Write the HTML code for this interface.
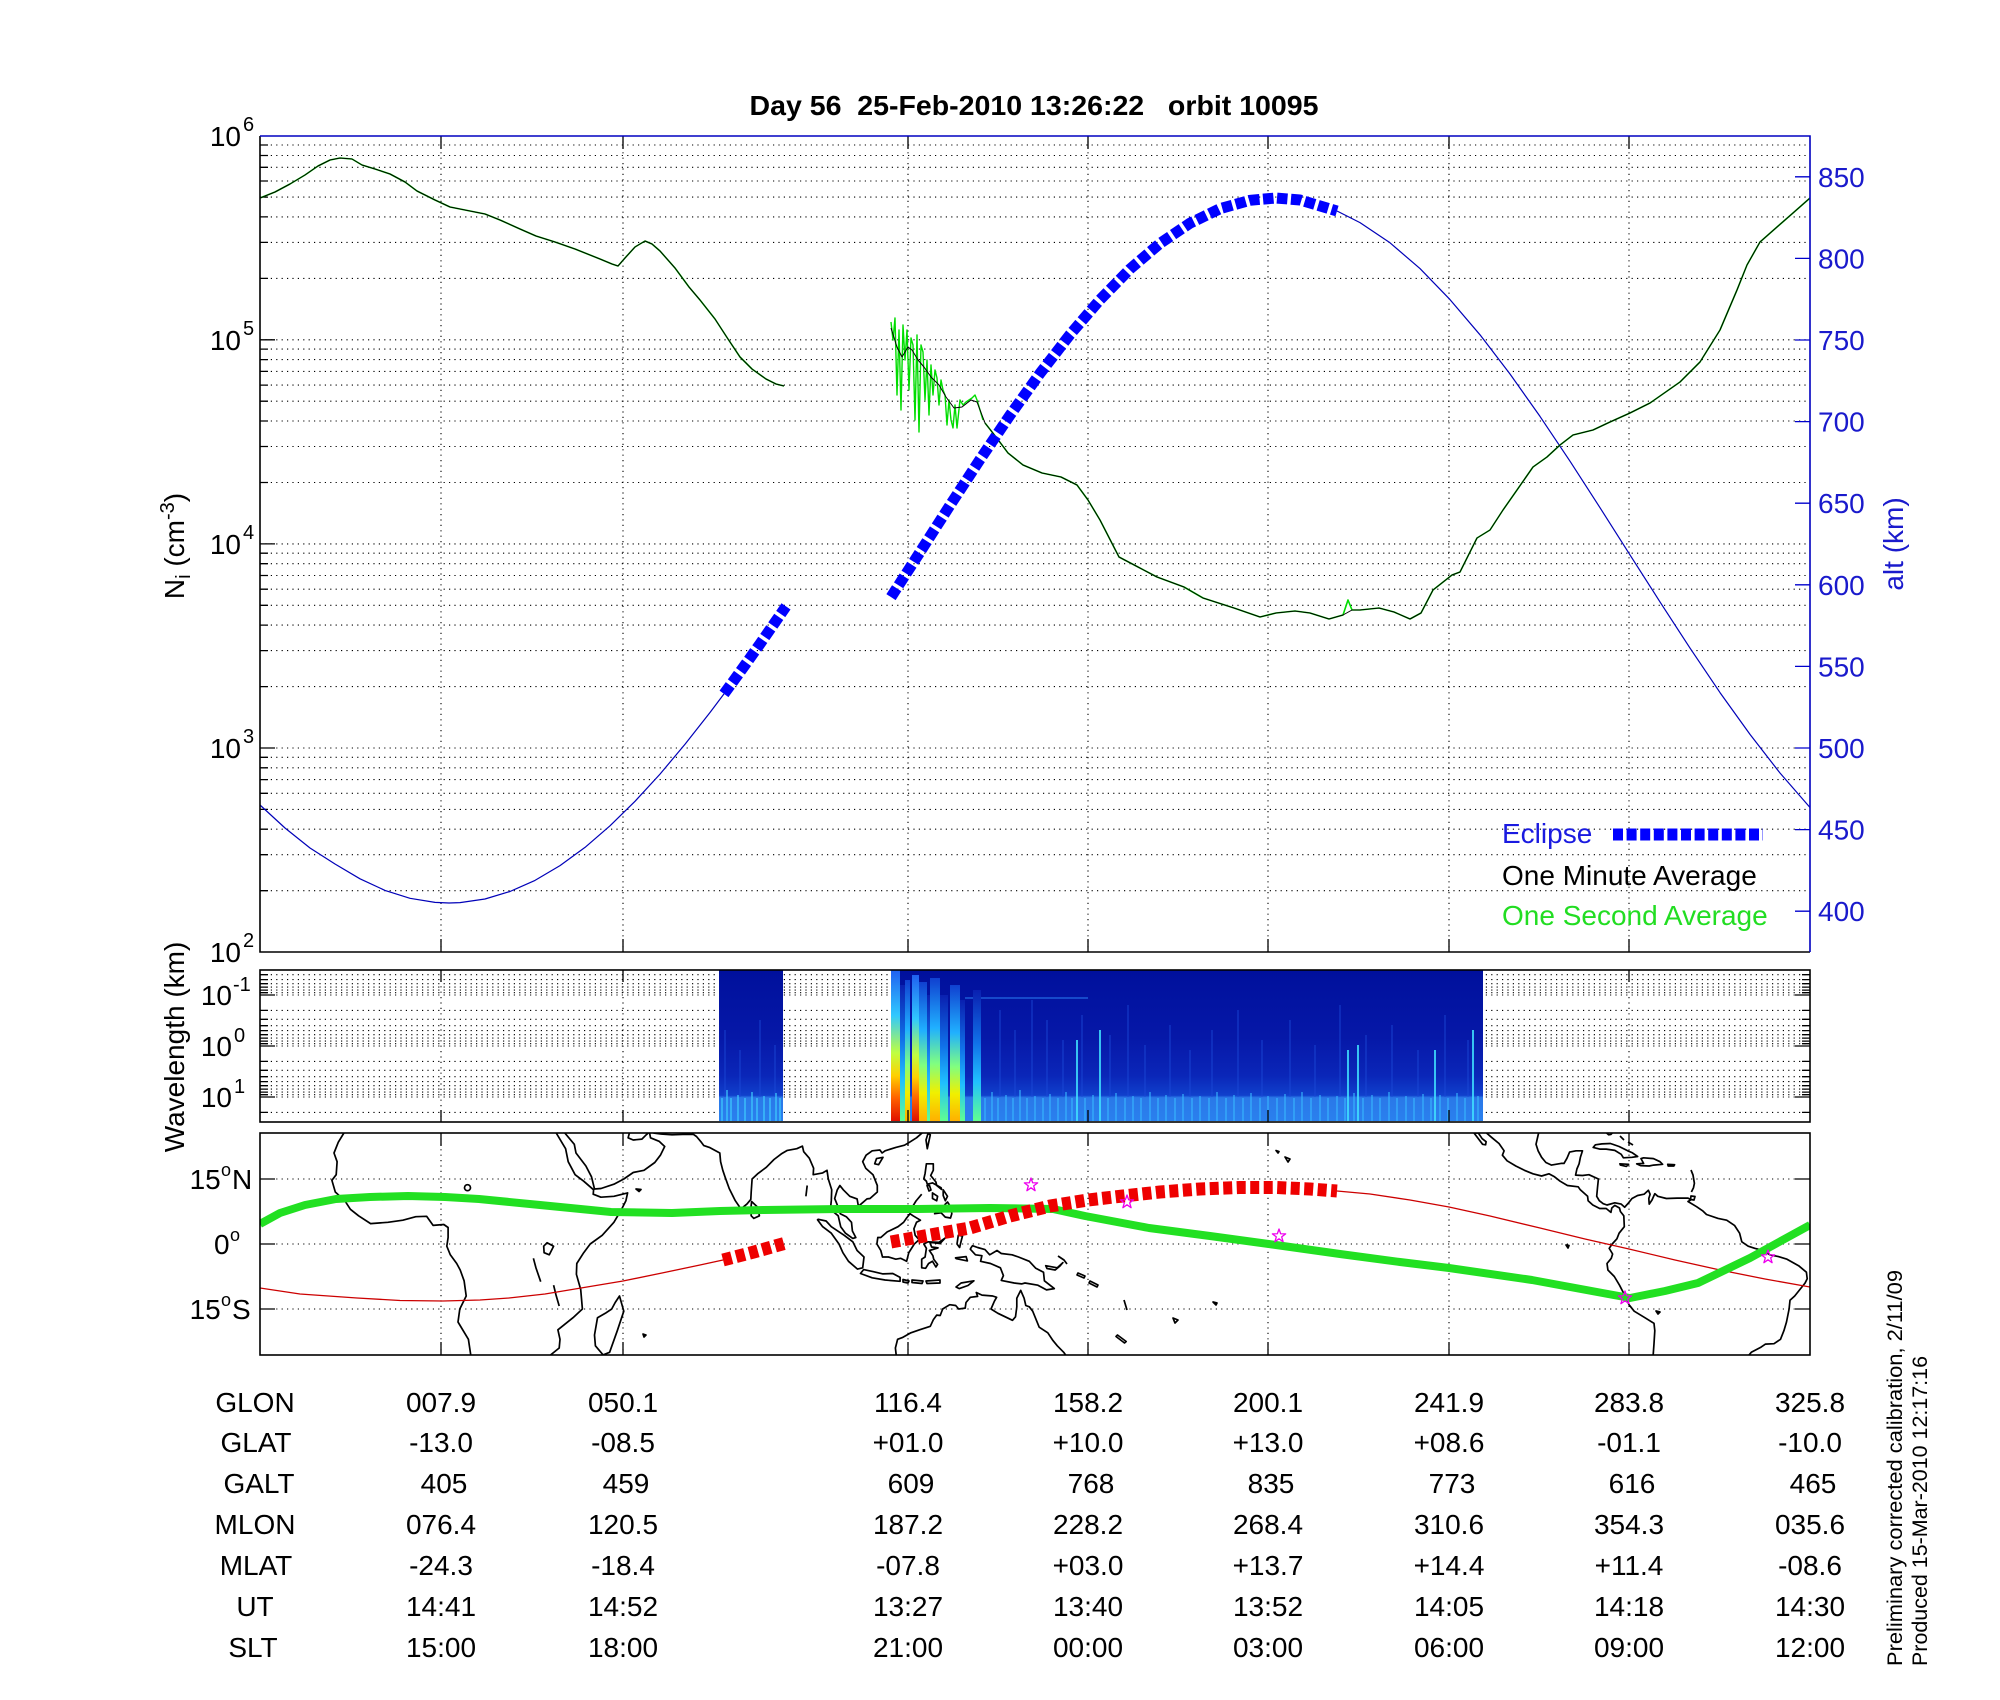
<!DOCTYPE html>
<html><head><meta charset="utf-8"><style>
html,body{margin:0;padding:0;background:#fff;}
svg{display:block;font-family:"Liberation Sans",Arial,sans-serif;}
</style></head><body>
<svg width="2000" height="1700" viewBox="0 0 2000 1700" xmlns="http://www.w3.org/2000/svg">
<defs>
<clipPath id="cTop"><rect x="260" y="136" width="1550" height="816"/></clipPath>
<clipPath id="cMap"><rect x="260" y="1133" width="1550" height="222"/></clipPath>
<linearGradient id="specG" x1="0" y1="0" x2="0" y2="1">
<stop offset="0" stop-color="#00109c"/><stop offset="0.45" stop-color="#0618a8"/><stop offset="0.7" stop-color="#0a26b8"/><stop offset="0.83" stop-color="#1040cc"/><stop offset="0.845" stop-color="#2a78e8"/><stop offset="1" stop-color="#2a80ee"/>
</linearGradient>
<linearGradient id="hotA" x1="0" y1="0" x2="0" y2="1">
<stop offset="0" stop-color="#2060f0"/><stop offset="0.3" stop-color="#30c8ff"/><stop offset="0.55" stop-color="#c0ff40"/><stop offset="0.7" stop-color="#ffd000"/><stop offset="0.85" stop-color="#ff6000"/><stop offset="1" stop-color="#e01000"/>
</linearGradient>
<linearGradient id="hotB" x1="0" y1="0" x2="0" y2="1">
<stop offset="0" stop-color="#1040d0"/><stop offset="0.35" stop-color="#20b0ff"/><stop offset="0.6" stop-color="#80ff80"/><stop offset="0.8" stop-color="#f0f000"/><stop offset="1" stop-color="#ffb000"/>
</linearGradient>
<linearGradient id="hotC" x1="0" y1="0" x2="0" y2="1">
<stop offset="0" stop-color="#0a20b0"/><stop offset="0.4" stop-color="#1070e8"/><stop offset="0.7" stop-color="#20c0ff"/><stop offset="1" stop-color="#60ff90"/>
</linearGradient>
</defs>
<rect x="0" y="0" width="2000" height="1700" fill="#fff"/>

<text x="1034" y="115" font-size="28" font-weight="bold" text-anchor="middle" textLength="569" lengthAdjust="spacingAndGlyphs" xml:space="preserve">Day 56  25-Feb-2010 13:26:22   orbit 10095</text>

<!-- ============ TOP PANEL ============ -->
<g stroke="#000" stroke-width="1.1" stroke-dasharray="1.2 4.2" fill="none">
<path d="M260 145H1810M260 155.5H1810M260 167.3H1810M260 181H1810M260 197.1H1810M260 216.9H1810M260 242.4H1810M260 278.4H1810M260 339.8H1810M260 349.1H1810M260 359.6H1810M260 371.4H1810M260 385.1H1810M260 401.2H1810M260 421H1810M260 446.5H1810M260 482.5H1810M260 543.9H1810M260 553.2H1810M260 563.7H1810M260 575.5H1810M260 589.2H1810M260 605.3H1810M260 625.1H1810M260 650.6H1810M260 686.6H1810M260 748H1810M260 757.3H1810M260 767.8H1810M260 779.6H1810M260 793.3H1810M260 809.4H1810M260 829.2H1810M260 854.7H1810M260 890.7H1810"/>
<path d="M441 136V952M623 136V952M908 136V952M1088 136V952M1268 136V952M1449 136V952M1629 136V952"/>
</g>
<g stroke="#000" stroke-width="1.3">
<path d="M260 339.8H275M260 543.9H275M260 748H275"/>
<path d="M260 145H268M260 155.5H268M260 167.3H268M260 181H268M260 197.1H268M260 216.9H268M260 242.4H268M260 278.4H268M260 349.1H268M260 359.6H268M260 371.4H268M260 385.1H268M260 401.2H268M260 421H268M260 446.5H268M260 482.5H268M260 553.2H268M260 563.7H268M260 575.5H268M260 589.2H268M260 605.3H268M260 625.1H268M260 650.6H268M260 686.6H268M260 757.3H268M260 767.8H268M260 779.6H268M260 793.3H268M260 809.4H268M260 829.2H268M260 854.7H268M260 890.7H268"/>
<path d="M441 952V939M623 952V939M908 952V939M1088 952V939M1268 952V939M1449 952V939M1629 952V939"/>
<path d="M441 136V149M623 136V149M908 136V149M1088 136V149M1268 136V149M1449 136V149M1629 136V149"/>
</g>
<path d="M1795 176.8H1810M1795 258.4H1810M1795 340H1810M1795 421.6H1810M1795 503.2H1810M1795 584.8H1810M1795 666.4H1810M1795 748H1810M1795 829.6H1810M1795 911.2H1810" stroke="#0000cd" stroke-width="1.3"/>

<g clip-path="url(#cTop)" fill="none" stroke-linejoin="round">
<polyline stroke="#0000b8" stroke-width="1.2" points="260,805 285,828 310,848 335,864 360,878.8 385,890.4 410,898.3 435,902.4 449,903 460,902.6 485,899 510,891.5 535,880.4 560,865.6 585,847.4 610,825.8 635,801.3 660,774.1 685,744.3 710,712.5 724,693.9"/>
<polyline stroke="#0000b8" stroke-width="1.2" points="1337,211 1360,222.6 1390,242.8 1420,268.6 1450,299.6 1480,334.8 1510,374 1540,416.4 1570,461.2 1600,507.7 1630,554.9 1660,601.9 1690,648.1 1720,692.6 1750,734.4 1780,773 1810,807.5"/>
<polyline stroke="#00dd00" stroke-width="1.6" points="260,198 275,192 290,184 305,175 318,166 330,160 340,158 352,159 362,165 375,169 390,174 405,182 417,191 435,200 450,207 470,211 485,214 500,220 520,229 536,236 555,242 575,249 600,259 612,264 618,266 625,258 635,247 645,241 652,244 660,251 675,268 689,287 700,300 715,319 728,339 740,357 752,369 766,379 776,384 784,386"/>
<polyline stroke="#00dd00" stroke-width="1.4" points="891,322 893,340 895,318 897,395 899,330 901,410 903,325 905,360 907,330 909,390 911,338 913,345 915,420 917,335 919,432 921,345 923,352 925,400 927,360 929,415 931,365 933,395 935,370 937,378 939,405 941,380 943,390 945,395 947,425 949,400 951,420 953,428 955,405 957,428 960,400 963,405 966,402 969,400 972,398 975,395 977,400 980,410 983,420"/>
<polyline stroke="#00dd00" stroke-width="1.6" points="985,423 996,437 1008,453 1023,465 1042,473 1061,477 1077,485 1088,500 1100,520 1119,557 1138,567 1157,577 1184,587 1203,598 1234,608 1260,617 1276,613 1295,611 1310,613 1329,619 1343,615 1348,600 1352,610 1360,610 1379,608 1394,612 1410,619 1421,613 1433,590 1452,575 1460,572 1477,538 1490,530 1503,510 1517,490 1533,467 1547,457 1560,445 1573,435 1593,430 1610,422 1630,413 1650,403 1680,382 1700,362 1720,330 1737,290 1747,265 1760,242 1777,227 1793,213 1810,198"/>
<polyline stroke="#000" stroke-width="1" points="260,198 275,192 290,184 305,175 318,166 330,160 340,158 352,159 362,165 375,169 390,174 405,182 417,191 435,200 450,207 470,211 485,214 500,220 520,229 536,236 555,242 575,249 600,259 612,264 618,266 625,258 635,247 645,241 652,244 660,251 675,268 689,287 700,300 715,319 728,339 740,357 752,369 766,379 776,384 784,386"/>
<polyline stroke="#000" stroke-width="1" points="891,328 897,347 902,357 908,347 912,350 918,360 924,367 931,377 939,385 946,397 954,408 962,407 971,400 977,402 985,423 996,437 1008,453 1023,465 1042,473 1061,477 1077,485 1088,500 1100,520 1119,557 1138,567 1157,577 1184,587 1203,598 1234,608 1260,617 1276,613 1295,611 1310,613 1329,619 1343,615 1352,610 1360,610 1379,608 1394,612 1410,619 1421,613 1433,590 1452,575 1460,572 1477,538 1490,530 1503,510 1517,490 1533,467 1547,457 1560,445 1573,435 1593,430 1610,422 1630,413 1650,403 1680,382 1700,362 1720,330 1737,290 1747,265 1760,242 1777,227 1793,213 1810,198"/>
<polyline stroke="#0000ff" stroke-width="11" stroke-dasharray="10.5 3.5" points="724,693.9 735,678.9 748,660.8 760,643.9 773,625.2 786,606.4"/>
<polyline stroke="#0000ff" stroke-width="11" stroke-dasharray="10.5 3.5" points="891,597.1 920,552.1 950,505.3 980,459.5 1010,415.2 1040,373.4 1070,334.6 1100,299.7 1130,269 1160,243.4 1190,223.2 1220,208.7 1250,200.3 1276,198 1300,200 1337,211"/>
</g>

<text x="1502" y="843" font-size="28" fill="#1a1ae0">Eclipse</text>
<line x1="1613" y1="834.5" x2="1763" y2="834.5" stroke="#0000ff" stroke-width="12" stroke-dasharray="10 3.6"/>
<text x="1502" y="885" font-size="28" fill="#000">One Minute Average</text>
<text x="1502" y="925" font-size="28" fill="#22dd22">One Second Average</text>

<path d="M260 136V952H1810" stroke="#000" stroke-width="1.6" fill="none"/>
<path d="M260 136H1810V952" stroke="#0000c0" stroke-width="1.6" fill="none"/>

<g font-size="28" fill="#000">
<text x="241" y="146" text-anchor="end">10</text><text x="243" y="131" font-size="20">6</text>
<text x="241" y="350" text-anchor="end">10</text><text x="243" y="335" font-size="20">5</text>
<text x="241" y="554" text-anchor="end">10</text><text x="243" y="539" font-size="20">4</text>
<text x="241" y="758" text-anchor="end">10</text><text x="243" y="743" font-size="20">3</text>
<text x="241" y="962" text-anchor="end">10</text><text x="243" y="947" font-size="20">2</text>
</g>
<g font-size="28" fill="#1a1acc">
<text x="1818" y="186.8">850</text><text x="1818" y="268.4">800</text><text x="1818" y="350">750</text><text x="1818" y="431.6">700</text><text x="1818" y="513.2">650</text><text x="1818" y="594.8">600</text><text x="1818" y="676.4">550</text><text x="1818" y="758">500</text><text x="1818" y="839.6">450</text><text x="1818" y="921.2">400</text>
</g>
<text transform="translate(184,546) rotate(-90)" font-size="28" text-anchor="middle" fill="#000">N<tspan font-size="20" dy="6">i</tspan><tspan dy="-6"> (cm</tspan><tspan font-size="20" dy="-10">-3</tspan><tspan dy="10">)</tspan></text>
<text transform="translate(1903,544) rotate(-90)" font-size="28" text-anchor="middle" fill="#1a1acc">alt (km)</text>

<!-- ============ SPECTROGRAM PANEL ============ -->
<g stroke="#000" stroke-width="1.1" stroke-dasharray="1.2 4.2" fill="none">
<path d="M260 974.7H1810M260 979.6H1810M260 983.7H1810M260 987.1H1810M260 990.1H1810M260 992.7H1810M260 995H1810M260 1010.4H1810M260 1019.3H1810M260 1025.7H1810M260 1030.6H1810M260 1034.7H1810M260 1038.1H1810M260 1041.1H1810M260 1043.7H1810M260 1046H1810M260 1061.4H1810M260 1070.3H1810M260 1076.7H1810M260 1081.6H1810M260 1085.7H1810M260 1089.1H1810M260 1092.1H1810M260 1094.7H1810M260 1097H1810M260 1112.4H1810"/>
<path d="M441 970V1122M623 970V1122M908 970V1122M1088 970V1122M1268 970V1122M1449 970V1122M1629 970V1122"/>
</g>
<rect x="719" y="970" width="64" height="151" fill="url(#specG)"/>
<rect x="891" y="970" width="592" height="151" fill="url(#specG)"/>
<path d="M1000 1010V1097M1015 1030V1097M1032 1000V1097M1047 1020V1097M1063 1040V1097M1082 1015V1097M1110 1035V1097M1128 1005V1097M1145 1045V1097M1170 1025V1097M1190 1050V1097M1212 1030V1097M1238 1010V1097M1262 1040V1097M1290 1020V1097M1315 1045V1097M1340 1005V1097M1366 1035V1097M1392 1025V1097M1418 1050V1097M1445 1015V1097M1468 1040V1097M725 1030V1097M740 1050V1097M760 1020V1097M775 1045V1097" stroke="#1c4ad8" stroke-width="1.4" opacity="0.6"/>
<path d="M722 1098V1121M727 1090V1121M731 1098V1121M738 1095V1121M745 1098V1121M752 1092V1121M757 1098V1121M764 1096V1121M770 1098V1121M776 1093V1121M780 1098V1121" stroke="#40d0ff" stroke-width="1.6" opacity="0.75"/>
<path d="M985 1098V1121M992 1092V1121M998 1098V1121M1006 1095V1121M1013 1098V1121M1020 1090V1121M1027 1098V1121M1035 1096V1121M1043 1098V1121M1050 1094V1121M1058 1098V1121M1066 1092V1121M1072 1098V1121M1085 1098V1121M1093 1095V1121M1108 1098V1121M1116 1093V1121M1125 1098V1121M1133 1096V1121M1141 1098V1121M1150 1092V1121M1158 1098V1121M1166 1095V1121M1175 1098V1121M1183 1094V1121M1192 1098V1121M1200 1096V1121M1209 1098V1121M1217 1092V1121M1226 1098V1121M1234 1095V1121M1243 1098V1121M1251 1093V1121M1260 1098V1121M1268 1096V1121M1277 1098V1121M1285 1094V1121M1294 1098V1121M1302 1092V1121M1311 1098V1121M1320 1095V1121M1328 1098V1121M1337 1096V1121M1345 1098V1121M1354 1093V1121M1363 1098V1121M1372 1095V1121M1380 1098V1121M1389 1092V1121M1397 1098V1121M1406 1096V1121M1414 1098V1121M1423 1094V1121M1431 1098V1121M1440 1095V1121M1448 1098V1121M1457 1093V1121M1465 1098V1121M1478 1096V1121" stroke="#38b8ff" stroke-width="1.6" opacity="0.7"/>
<path d="M1077 1040V1121M1100 1030V1121M1348 1050V1121M1358 1045V1121M1435 1050V1121M1473 1030V1121" stroke="#40e0ff" stroke-width="2" opacity="0.85"/>
<line x1="965" y1="998" x2="1088" y2="998" stroke="#3090ff" stroke-width="1.2" opacity="0.7"/>
<rect x="891" y="970" width="9" height="151" fill="url(#hotA)"/>
<rect x="900" y="985" width="5" height="136" fill="url(#hotC)"/>
<rect x="905" y="980" width="5" height="141" fill="url(#hotB)"/>
<rect x="912" y="975" width="7" height="146" fill="url(#hotA)"/>
<rect x="919" y="982" width="8" height="139" fill="url(#hotB)"/>
<rect x="927" y="995" width="3" height="126" fill="url(#hotC)"/>
<rect x="930" y="978" width="10" height="143" fill="url(#hotB)"/>
<rect x="940" y="995" width="8" height="126" fill="url(#hotC)"/>
<rect x="950" y="985" width="10" height="136" fill="url(#hotB)"/>
<rect x="960" y="1000" width="5" height="121" fill="url(#hotC)"/>
<rect x="973" y="990" width="8" height="131" fill="url(#hotC)"/>
<g stroke="#000" stroke-width="1.3">
<path d="M260 995H275M260 1046H275M260 1097H275M1795 995H1810M1795 1046H1810M1795 1097H1810"/>
<path d="M260 974.7H268M260 979.6H268M260 983.7H268M260 987.1H268M260 990.1H268M260 992.7H268M260 1010.4H268M260 1019.3H268M260 1025.7H268M260 1030.6H268M260 1034.7H268M260 1038.1H268M260 1041.1H268M260 1043.7H268M260 1061.4H268M260 1070.3H268M260 1076.7H268M260 1081.6H268M260 1085.7H268M260 1089.1H268M260 1092.1H268M260 1094.7H268M260 1112.4H268"/>
<path d="M1802 974.7H1810M1802 979.6H1810M1802 983.7H1810M1802 987.1H1810M1802 990.1H1810M1802 992.7H1810M1802 1010.4H1810M1802 1019.3H1810M1802 1025.7H1810M1802 1030.6H1810M1802 1034.7H1810M1802 1038.1H1810M1802 1041.1H1810M1802 1043.7H1810M1802 1061.4H1810M1802 1070.3H1810M1802 1076.7H1810M1802 1081.6H1810M1802 1085.7H1810M1802 1089.1H1810M1802 1092.1H1810M1802 1094.7H1810M1802 1112.4H1810"/>
<path d="M441 1122V1110M623 1122V1110M908 1122V1110M1088 1122V1110M1268 1122V1110M1449 1122V1110M1629 1122V1110M441 970V982M623 970V982M1629 970V982"/>
</g>
<rect x="260" y="970" width="1550" height="152" fill="none" stroke="#000" stroke-width="1.6"/>
<g font-size="28" fill="#000">
<text x="232" y="1005" text-anchor="end">10</text><text x="233" y="991" font-size="20">-1</text>
<text x="232" y="1056" text-anchor="end">10</text><text x="234" y="1042" font-size="20">0</text>
<text x="232" y="1107" text-anchor="end">10</text><text x="234" y="1093" font-size="20">1</text>
</g>
<text transform="translate(184,1047) rotate(-90)" font-size="28" text-anchor="middle" fill="#000">Wavelength (km)</text>

<!-- ============ MAP PANEL ============ -->
<g stroke="#000" stroke-width="1.1" stroke-dasharray="1.2 4.2" fill="none">
<path d="M260 1179H1810M260 1244H1810M260 1309H1810"/>
<path d="M441 1133V1355M623 1133V1355M908 1133V1355M1088 1133V1355M1268 1133V1355M1449 1133V1355M1629 1133V1355"/>
</g>
<g clip-path="url(#cMap)" fill="none" stroke="#000" stroke-width="1.7" stroke-linejoin="round">
<polyline points="343.9,1133 338.3,1142.2 334,1153 337.1,1161.7 336.2,1174.7 331.9,1180.3 335.3,1192 344.8,1200.7 350.4,1209.3 358.6,1215.8 370.6,1223.6 387.9,1222.3 402.9,1220.2 415.8,1216.7 426.6,1216.3 433.1,1225.4 443.8,1224.5 448.1,1227.5 448.1,1237.5 446.8,1246.2 450.3,1254.8 456.7,1263.5 460.2,1270 464.1,1280.8 466.2,1296 459.8,1309 458,1322 468.4,1339.3 470.9,1356"/>
<polyline points="556.2,1133 565.6,1148.7 568.2,1161.7 575.1,1174.7 583.7,1181.2 593.6,1189.8 593.2,1194.2 600.9,1197.2 613.9,1196.3 627.6,1192.9 625.9,1200.7 621.6,1209.3 613.9,1222.3 602.2,1235.3 590.2,1244 583.7,1252.7 576.8,1263.5 576.4,1274.3 580.7,1289.5 582.4,1309 573,1317.7 557.9,1329.8 560,1339.3 559.2,1348 549.3,1356"/>
<polygon points="619.5,1296 623.8,1311.2 617.3,1330.7 609.6,1352.3 603.1,1354.9 595.4,1345.8 594.5,1335 597.5,1317.7 605.3,1313.3 611.7,1309 615.2,1302.5"/>
<polyline points="564.8,1133 574.3,1144.3 576,1153 585.9,1166 591.5,1176.8 594.5,1189 601,1188.5 613.9,1184.2 623.8,1179 633.2,1172.5 644,1170.3 654.8,1162.5 660.4,1155.2 664.7,1146.5 659.1,1141.3 650.5,1137.8 649.6,1133"/>
<polyline points="629.4,1133 628.1,1137.8 633.2,1140 641.9,1139.1 646.2,1134.8 648.3,1133"/>
<polyline points="653.5,1133 661.2,1134 672,1134.8 682.7,1134.4 693.5,1134.4 696.5,1136.5 701.3,1142.2 703.8,1145.6 709.4,1147.4 719.8,1153 720.6,1161.7 722.8,1170.3 725,1176.8 729.2,1188.5 735.3,1200.7 740.9,1208.9 746.9,1204.1 750.8,1199.4 751.2,1192 752.1,1179 758.1,1173.4 766.3,1167.3 774,1159.5 781.3,1153.9 787.3,1150.4 796.8,1148.7 802.4,1146.1 803.7,1151.7 809.3,1158.2 813.6,1168.2 813.2,1174.7 822.7,1172.9 827,1170.3 828.3,1179 831.7,1189.8 831.3,1200.7 830.4,1209.3 838.2,1215.8 840.7,1226.7 845.5,1233.2 852.8,1238.4 855.8,1237.5 852.4,1231 851.5,1222.3 846.3,1216.7 840.3,1213.7 838.2,1207.2 834.7,1198.5 837.3,1189.8 839.9,1185.5 843.3,1189.8 849.8,1196.3 857.1,1198.9 858.4,1206.3 867,1198.9 870,1198.5 877.3,1192 877.3,1185.5 873,1174.7 865.7,1168.2 862.7,1161.7 866.1,1155.2 872.2,1150.8 879.9,1150 882.1,1153 885.1,1150.8 895.8,1147.4 904.5,1145.2 909.6,1142.2 916.5,1137.8 922.1,1133"/>
<polygon points="751.6,1201.5 757.7,1207.2 759.4,1215.8 753.8,1218.4 751.2,1215.8 750.8,1209.3"/>
<polygon points="883,1157.3 878.6,1164.7 874.7,1163.8 876.5,1158.6"/>
<polygon points="930.3,1134.8 927.3,1148.7 926,1140 928,1133.5"/>
<polygon points="817.5,1219.7 822.7,1226.7 831.3,1233.2 839,1244 842.9,1252.7 848.5,1261.3 857.5,1269.1 862.7,1267.8 864,1257 857.1,1250.5 852.8,1241.8 844.2,1235.3 831.3,1226.7 826.1,1221 818.3,1219.3"/>
<polygon points="863.6,1269.6 873.5,1271.7 882.9,1273.9 892.8,1273.5 900.1,1277.4 900.1,1281.3 885.1,1280 872.2,1277.8 860.5,1273.5"/>
<polygon points="903,1279.5 909,1281 908,1283 903,1282"/>
<polygon points="912,1280 923,1281 922,1283.5 912,1282.5"/>
<polygon points="926,1281 940,1280 940,1283 927,1283.5"/>
<polygon points="956,1287 961.1,1283 973.9,1280.8 968,1285.5 959.3,1288.6"/>
<polygon points="910,1213.7 906.6,1218 903.6,1222.3 898,1226.7 887.2,1231.9 880.8,1237.5 877.8,1237.5 876.9,1244 880.8,1250.5 882.5,1257 888.5,1257 895.8,1259.2 900.6,1258.3 906.6,1261.3 908.8,1252.7 914.3,1244 919.1,1239.7 915.2,1235.3 913.9,1228.8 916.5,1222.3 920.4,1220.2 913.1,1215.8"/>
<polygon points="945.3,1237.9 938.9,1242.3 928.1,1241.8 923.8,1244 926.4,1248.3 925.1,1257 921.7,1259.2 921.7,1267.8 925.6,1268.3 928.6,1263.5 932.5,1261.3 935.9,1267 937.6,1264.4 933.7,1259.2 932.9,1255.7 929.4,1250.5 938,1247.9 931.6,1247 929.9,1242.3 940,1243.5"/>
<polygon points="958.3,1235.3 957,1244 959.6,1247.5 961.3,1240.5 962.5,1236"/>
<polygon points="955.5,1257.9 966.1,1256.6 967.4,1260.9 956.4,1258.7"/>
<polygon points="926.4,1163.8 925.1,1173.4 923.8,1179 926.4,1181.2 927.3,1184.2 932.5,1182.9 941.1,1187.7 941.6,1189.4 936.7,1185.5 935.9,1182 930.7,1175.5 933.3,1170.3 933.3,1163.8"/>
<polygon points="943.2,1189.8 947.5,1196.3 945.3,1200.7 943.2,1195.5"/>
<polygon points="932.5,1192.9 932.5,1198.5 936.7,1200.7 937.6,1196.3"/>
<polygon points="927,1185.5 929,1191 931,1190 929.5,1185.5"/>
<polyline points="921.7,1194.2 916,1201 912.2,1207.2"/>
<polygon points="947.5,1202 950.9,1207.2 951.8,1213.7 950.5,1218 945.3,1217.1 941.1,1212.8 934.6,1213.7 938.9,1209.3 943.2,1207.2 945.3,1204.1"/>
<polygon points="971.2,1247.5 970.3,1249.2 975.5,1254.8 981.9,1255.7 980.6,1261.3 990.5,1263.5 1000.4,1267.8 1003.4,1275.6 1001.3,1280.4 1014.2,1283 1021.6,1283.9 1025,1283 1037.9,1285.2 1046.5,1289.9 1054.3,1288.6 1044.4,1280.8 1043.5,1272.2 1035.8,1268.3 1029.3,1261.3 1018.5,1257 1012.1,1254.8 1001.3,1253.5 997,1250.5 989.7,1254.8 985,1249.6 977.6,1247.5 972.5,1245.7"/>
<polygon points="1045.7,1265.7 1057.3,1267.8 1062.9,1262.6 1060,1266 1055.2,1270 1047,1268.5"/>
<polyline points="1058,1256 1064,1260 1067,1264"/>
<polygon points="1078,1273 1085,1276 1084,1278 1077,1275"/>
<polygon points="1090,1281 1098,1285 1097,1287 1089,1283"/>
<polyline points="896.3,1356 895.4,1348 897.6,1339.3 902.3,1337.6 910.9,1332.8 919.5,1329.8 930.3,1326.3 933.3,1319.8 936.7,1315.1 940.2,1315.5 942.7,1309 949.7,1304.7 955.7,1305.5 958.7,1309 965.2,1308.1 966,1302.5 970.3,1297.3 977.6,1296.4 976.3,1292.5 982,1295.1 992.7,1296 996.6,1297.3 994.4,1301.2 991,1309 997.9,1313.3 1012.5,1320.3 1015.5,1316.8 1016.8,1306.8 1016.8,1298.2 1020.7,1290.4 1024.1,1298.2 1025.8,1305.5 1029.3,1306.8 1032.7,1311.2 1036.2,1319.8 1039.2,1327.2 1047.8,1332.8 1053,1340.6 1057.3,1345.8 1063.7,1352.3 1066.3,1356"/>
<polyline points="1124,1300 1127,1310"/>
<polygon points="1117.5,1335 1126.2,1341.5 1124.5,1343 1116,1336.5"/>
<polygon points="1173,1318 1178,1320 1175,1323"/>
<polygon points="1213,1302 1217,1303 1216,1305"/>
<polygon points="1285,1157 1290,1159 1288,1162"/>
<polygon points="1276,1150.5 1279,1151.5 1278,1153"/>
<polygon points="1474,1133 1482.6,1144.3 1485.6,1144.8 1486.1,1141.7 1482.2,1138.7 1478.3,1133"/>
<polyline points="1486.5,1133 1492.1,1137.8 1499,1143.5 1504.1,1150.8 1502.4,1155.2 1507.1,1160.8 1515.8,1166 1524.4,1170.3 1533,1173.8 1541.6,1176 1548.9,1173.8 1554.5,1176.8 1560.1,1181.2 1567.4,1185.5 1578.2,1186.8 1580.3,1189.8 1587.6,1196.3 1588.1,1200.7 1592.8,1205 1599.7,1208.5 1606.2,1208.5 1610.9,1212.4 1611.8,1208 1614.8,1205.4 1619.5,1208 1620.4,1211.5 1623.8,1215.8 1624.3,1226.7 1619.1,1233.2 1616.9,1238.8 1612.2,1244 1609.2,1248.3 1612.6,1254 1611.3,1258.3 1607,1263.5 1607.9,1270 1614.3,1276.5 1619.5,1285.2 1625.1,1296 1629,1304.7 1634.2,1311.2 1644.9,1317.7 1654,1323.3 1654.8,1330.7 1654,1343.7 1653.1,1356"/>
<polyline points="1538.6,1133 1536,1144.3 1538.1,1150.8 1541.6,1157.3 1545.9,1162.5 1551.5,1165.1 1561,1163.4 1564,1163.4 1567,1158.2 1569.6,1152.1 1576,1150.8 1582.5,1150.8 1580.4,1157.3 1579.1,1163.8 1576.9,1169 1575.6,1175.1 1582.5,1175.5 1588.9,1174.7 1598.4,1179 1597.5,1187.7 1596.7,1196.3 1599.3,1200.7 1603.2,1203.7 1607,1205 1614.8,1202.8 1621.2,1204.1 1624.7,1207.2 1628.6,1202.8 1632,1198.5 1637.6,1195.5 1644.1,1194.2 1648.4,1190.3 1650.1,1194.2 1648.8,1198.5 1649.2,1204.1 1652,1200 1654.8,1193.7 1657.8,1196.3 1666.4,1198.5 1677.2,1198.1 1688,1198.1 1691,1199.8 1688,1201.5 1696.6,1206.7 1703,1211.1 1706.5,1214.5 1718.1,1218.4 1726.7,1220.2 1734.5,1225.4 1739.6,1233.2 1741.8,1241.8 1748.2,1246.2 1754.7,1248.3 1763.3,1250.5 1769.8,1254.8 1778.4,1256.6 1787,1259.2 1798.6,1265.7 1806.4,1272.2 1807.2,1278.7 1805.1,1283 1799.9,1289.5 1794.7,1296 1790,1300.3 1789.1,1309 1786.5,1322 1783.9,1330.7 1780.5,1339.3 1774,1343.7 1765.5,1344.1 1761.1,1347.1 1751.3,1352.3 1748.2,1356"/>
<polyline points="1606.6,1133 1608.7,1134.8 1610.9,1134.4 1612.2,1133"/>
<polygon points="1601.9,1143.9 1610.4,1143.5 1619.1,1146.5 1627.7,1150.8 1632,1152.6 1637.6,1156.5 1632,1157.3 1623.4,1157.8 1621.2,1154.3 1614.8,1150.4 1606.2,1149.1 1599.7,1149.1 1593.2,1147.4 1595.4,1144.8"/>
<polygon points="1643.6,1157.8 1653.5,1158.6 1660,1161.7 1662.6,1164.3 1653.5,1165.1 1649.2,1166 1640.6,1165.6 1636.7,1163.8 1643.6,1163.4 1641,1158.6"/>
<polygon points="1619.9,1163.8 1628.6,1164.3 1626.4,1166.4 1620.4,1165.1"/>
<polygon points="1667.7,1164.3 1674.6,1164.7 1673.8,1166 1668.2,1166"/>
<polyline points="1620,1136 1624,1140"/>
<polyline points="1628,1142 1633,1145"/>
<polygon points="1691,1196 1695,1196.5 1694,1200 1690.5,1199.5"/>
<polygon points="1566,1245 1569,1245.5 1568,1248"/>
<circle cx="467.5" cy="1187.7" r="3"/>
<polygon points="547.1,1242.7 553.6,1246.2 549.3,1254.8 544.1,1252.7 543.7,1246.2"/>
<polyline points="533.4,1258.3 536,1268 540.7,1281.7"/>
<polyline points="553.6,1285.2 556,1295 559.2,1306"/>
<polygon points="636,1189 641,1189.5 639,1191.5"/>
<polygon points="1656,1311 1660,1312 1658,1314"/>
<polyline points="807.2,1185.5 805.9,1196.3"/>
<polygon points="643,1334 646,1335 644,1337"/>
<polyline points="1691,1170 1693,1175 1694.4,1183.3 1693.5,1187.7 1691.4,1192"/>
</g>
<g clip-path="url(#cMap)" fill="none" stroke-linejoin="round" stroke-linecap="butt">
<polyline stroke="#cc0000" stroke-width="1.3" points="260,1288 300,1294 357,1298 400,1300.5 443,1301 480,1300 509,1298 545,1294 581,1288 623,1281 662,1273 700,1265 723,1260"/>
<polyline stroke="#cc0000" stroke-width="1.3" points="1337,1191 1370,1194 1410,1200 1449,1207 1490,1216 1540,1228 1585,1239 1629,1249 1675,1260 1720,1270 1765,1279 1810,1287"/>
<polyline stroke="#22e022" stroke-width="8" points="260,1224 280,1213 305,1205 336,1199 370,1197 408,1196 445,1197 479,1199 540,1205 611,1212 672,1213 720,1211 764,1210 840,1209 917,1209 990,1208 1053,1209 1085,1216 1149,1228 1210,1236 1276,1245 1340,1254 1400,1262 1449,1268 1532,1280 1608,1294 1630,1298 1665,1291 1698,1283 1750,1258 1810,1225"/>
<polyline stroke="#ee0000" stroke-width="13" stroke-dasharray="9 4.5" points="723,1260 754,1252 786,1243"/>
<polyline stroke="#ee0000" stroke-width="13" stroke-dasharray="9 4.5" points="891,1242 930,1235 970,1228 1010,1216 1050,1206 1088,1200 1123,1196 1160,1192 1200,1189 1240,1187.5 1276,1187.5 1310,1189 1337,1191"/>
<g stroke="#ee00ee" stroke-width="1.3">
<polygon transform="translate(1031,1185)" points="0,-7 1.65,-2.27 6.66,-2.16 2.66,0.87 4.11,5.66 0,2.8 -4.11,5.66 -2.66,0.87 -6.66,-2.16 -1.65,-2.27"/>
<polygon transform="translate(1127,1202)" points="0,-7 1.65,-2.27 6.66,-2.16 2.66,0.87 4.11,5.66 0,2.8 -4.11,5.66 -2.66,0.87 -6.66,-2.16 -1.65,-2.27"/>
<polygon transform="translate(1279,1236)" points="0,-7 1.65,-2.27 6.66,-2.16 2.66,0.87 4.11,5.66 0,2.8 -4.11,5.66 -2.66,0.87 -6.66,-2.16 -1.65,-2.27"/>
<polygon transform="translate(1625,1298)" points="0,-7 1.65,-2.27 6.66,-2.16 2.66,0.87 4.11,5.66 0,2.8 -4.11,5.66 -2.66,0.87 -6.66,-2.16 -1.65,-2.27"/>
<polygon transform="translate(1768,1257)" points="0,-7 1.65,-2.27 6.66,-2.16 2.66,0.87 4.11,5.66 0,2.8 -4.11,5.66 -2.66,0.87 -6.66,-2.16 -1.65,-2.27"/>
</g>
</g>
<g stroke="#000" stroke-width="1.3">
<path d="M260 1179H275M260 1244H275M260 1309H275M1795 1179H1810M1795 1244H1810M1795 1309H1810"/>
<path d="M441 1355V1342M623 1355V1342M908 1355V1342M1088 1355V1342M1268 1355V1342M1449 1355V1342M1629 1355V1342M441 1133V1146M623 1133V1146M908 1133V1146M1088 1133V1146M1268 1133V1146M1449 1133V1146M1629 1133V1146"/>
</g>
<rect x="260" y="1133" width="1550" height="222" fill="none" stroke="#000" stroke-width="1.6"/>
<g font-size="28" fill="#000">
<text x="189.6" y="1189">15</text><text x="221" y="1176" font-size="18">o</text><text x="232" y="1189">N</text>
<text x="214" y="1254">0</text><text x="230" y="1241" font-size="18">o</text>
<text x="189.6" y="1319">15</text><text x="221" y="1306" font-size="18">o</text><text x="232" y="1319">S</text>
</g>

<!-- ============ TABLE ============ -->
<g font-size="28" fill="#000" text-anchor="middle">
<text x="255" y="1412">GLON</text>
<text x="441" y="1412">007.9</text><text x="623" y="1412">050.1</text><text x="908" y="1412">116.4</text><text x="1088" y="1412">158.2</text><text x="1268" y="1412">200.1</text><text x="1449" y="1412">241.9</text><text x="1629" y="1412">283.8</text><text x="1810" y="1412">325.8</text>
<text x="256" y="1452">GLAT</text>
<text x="441" y="1452">-13.0</text><text x="623" y="1452">-08.5</text><text x="908" y="1452">+01.0</text><text x="1088" y="1452">+10.0</text><text x="1268" y="1452">+13.0</text><text x="1449" y="1452">+08.6</text><text x="1629" y="1452">-01.1</text><text x="1810" y="1452">-10.0</text>
<text x="259" y="1493">GALT</text>
<text x="444" y="1493">405</text><text x="626" y="1493">459</text><text x="911" y="1493">609</text><text x="1091" y="1493">768</text><text x="1271" y="1493">835</text><text x="1452" y="1493">773</text><text x="1632" y="1493">616</text><text x="1813" y="1493">465</text>
<text x="255" y="1534">MLON</text>
<text x="441" y="1534">076.4</text><text x="623" y="1534">120.5</text><text x="908" y="1534">187.2</text><text x="1088" y="1534">228.2</text><text x="1268" y="1534">268.4</text><text x="1449" y="1534">310.6</text><text x="1629" y="1534">354.3</text><text x="1810" y="1534">035.6</text>
<text x="256" y="1575">MLAT</text>
<text x="441" y="1575">-24.3</text><text x="623" y="1575">-18.4</text><text x="908" y="1575">-07.8</text><text x="1088" y="1575">+03.0</text><text x="1268" y="1575">+13.7</text><text x="1449" y="1575">+14.4</text><text x="1629" y="1575">+11.4</text><text x="1810" y="1575">-08.6</text>
<text x="255" y="1616">UT</text>
<text x="441" y="1616">14:41</text><text x="623" y="1616">14:52</text><text x="908" y="1616">13:27</text><text x="1088" y="1616">13:40</text><text x="1268" y="1616">13:52</text><text x="1449" y="1616">14:05</text><text x="1629" y="1616">14:18</text><text x="1810" y="1616">14:30</text>
<text x="253" y="1657">SLT</text>
<text x="441" y="1657">15:00</text><text x="623" y="1657">18:00</text><text x="908" y="1657">21:00</text><text x="1088" y="1657">00:00</text><text x="1268" y="1657">03:00</text><text x="1449" y="1657">06:00</text><text x="1629" y="1657">09:00</text><text x="1810" y="1657">12:00</text>
</g>

<text transform="translate(1902,1666) rotate(-90)" font-size="21.5" fill="#000" textLength="396" lengthAdjust="spacingAndGlyphs">Preliminary corrected calibration, 2/11/09</text>
<text transform="translate(1927,1666) rotate(-90)" font-size="21.5" fill="#000" textLength="310" lengthAdjust="spacingAndGlyphs">Produced 15-Mar-2010 12:17:16</text>
</svg>
</body></html>
